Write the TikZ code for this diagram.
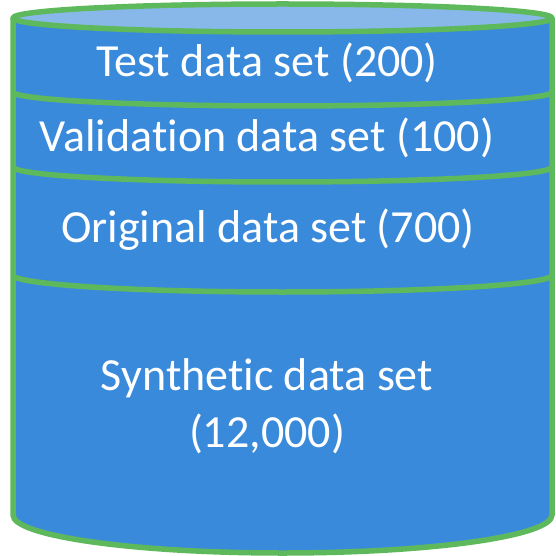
\documentclass[tikz,border=0pt]{standalone}
\usepackage{fontspec}
\setmainfont[Ligatures={NoCommon}]{Carlito}
\definecolor{layerblue}{RGB}{58,138,219}
\definecolor{lidblue}{RGB}{136,184,234}
\definecolor{rimgreen}{RGB}{94,184,92}

\begin{document}
\begin{tikzpicture}[x=1pt, y=1pt,
	rim/.style={draw=rimgreen, line width=5.5pt, line join=round},
	layer/.style={text=white, font=\fontsize{46}{57}\selectfont, align=center, inner sep=0pt}]
	\useasboundingbox (0,0) rectangle (556,555);
	% body of the can
	\fill[layerblue] (13,537) -- (13,40) arc[start angle=180, end angle=360, x radius=269.5, y radius=38] -- (552,537) -- cycle;
	\draw[rim] (13,537) -- (13,40) arc[start angle=180, end angle=360, x radius=269.5, y radius=38] -- (552,537);
	% separators
	\draw[rim] (13,463) arc[start angle=180, end angle=360, x radius=269.5, y radius=14];
	\draw[rim] (13,388) arc[start angle=180, end angle=360, x radius=269.5, y radius=15];
	\draw[rim] (13,280) arc[start angle=180, end angle=360, x radius=269.5, y radius=17];
	% lid
	\draw[rim, fill=lidblue] (282.5,537) ellipse[x radius=269.5, y radius=14];
	% labels
	\node[layer] (test) at (267,492) {Test data set (200)};
	\node[layer] (valid) at (267,417) {Validation data set (100)};
	\node[layer] (orig) at (268,325) {Original data set (700)};
	\node[layer] (synth) at (267,149) {Synthetic data set\\(12,000)};
\end{tikzpicture}
\end{document}
